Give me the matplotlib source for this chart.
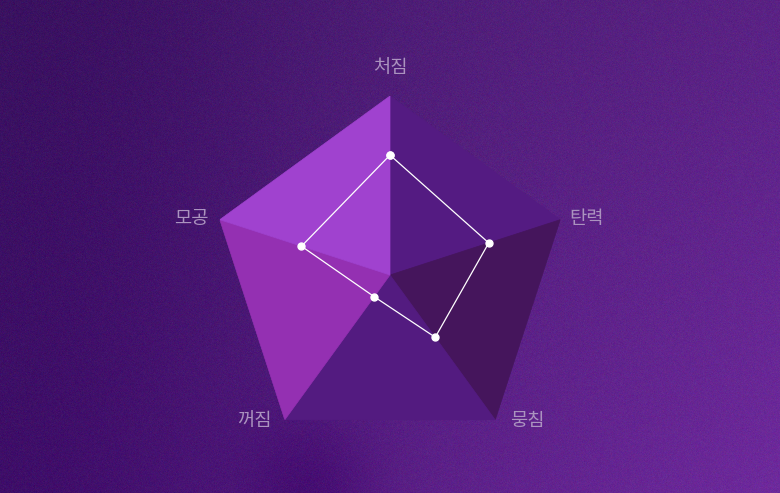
import numpy as np
import matplotlib.pyplot as plt

plt.rcParams['font.family'] = ['Noto Sans CJK KR', 'DejaVu Sans']

# data
categories = ['처짐', '탄력', '뭉침', '꺼짐', '모공']
values = [67, 58, 43, 15, 52]
scale_max = 100

# one face per wedge, clockwise from the top axis
face_colors = ['#541b82', '#45155c', '#531b80', '#9430b2', '#a042cf']
label_color = '#ab93bf'

W, H = 780, 493
fig = plt.figure(figsize=(W / 100, H / 100), dpi=100)

# background gradient with a little grain
bg = fig.add_axes([0, 0, 1, 1])
bg.axis('off')
yy, xx = np.mgrid[0:1:H * 1j, 0:1:W * 1j]
xx = xx[..., None]
yy = yy[..., None]
tl = np.array([66, 26, 104]) / 255
tr = np.array([90, 34, 132]) / 255
bl = np.array([70, 22, 112]) / 255
br = np.array([110, 42, 156]) / 255
img = (tl * (1 - xx) * (1 - yy) + tr * xx * (1 - yy)
       + bl * (1 - xx) * yy + br * xx * yy)
# darker band on the left middle, soft shadow under the chart
img -= 0.035 * np.exp(-((xx - 0.1) ** 2) / 0.08)
img -= 0.05 * np.exp(-((xx - 0.4) ** 2 / 0.006 + (yy - 1.0) ** 2 / 0.02))
grain = np.random.default_rng(3).normal(0, 0.014, (H, W, 3))
img = np.clip(img + grain, 0, 1)
bg.imshow(img, extent=[0, W, H, 0], aspect='auto')
bg.set_xlim(0, W)
bg.set_ylim(H, 0)

# radar
cx, cy, R = 390, 275, 179
ax = fig.add_axes([(cx - R) / W, (H - cy - R) / H, 2 * R / W, 2 * R / H],
                  projection='polar')
ax.set_theta_offset(np.pi / 2)
ax.set_theta_direction(-1)
ax.set_ylim(0, scale_max)
ax.axis('off')
ax.patch.set_alpha(0)

n = len(categories)
angles = np.arange(n) * 2 * np.pi / n
for i in range(n):
    a0, a1 = angles[i], angles[(i + 1) % n]
    ax.fill([0, a0, a1], [0, scale_max, scale_max],
            facecolor=face_colors[i], edgecolor=face_colors[i], lw=0.5)

ax.plot(np.append(angles, angles[0]), values + values[:1],
        color='white', lw=0.9, marker='o', ms=5, mec='white', mfc='white')

label_offsets = [(0, 29, 'center'), (9, 1, 'left'), (15, -1, 'left'),
                 (-13, -1, 'right'), (-11, 1, 'right')]
for a, cat, (dx, dy, ha) in zip(angles, categories, label_offsets):
    ax.annotate(cat, xy=(a, scale_max), xytext=(dx, dy),
                textcoords='offset pixels', ha=ha, va='center',
                fontsize=13.5, color=label_color, annotation_clip=False)

fig.savefig('out.png', dpi=100)
